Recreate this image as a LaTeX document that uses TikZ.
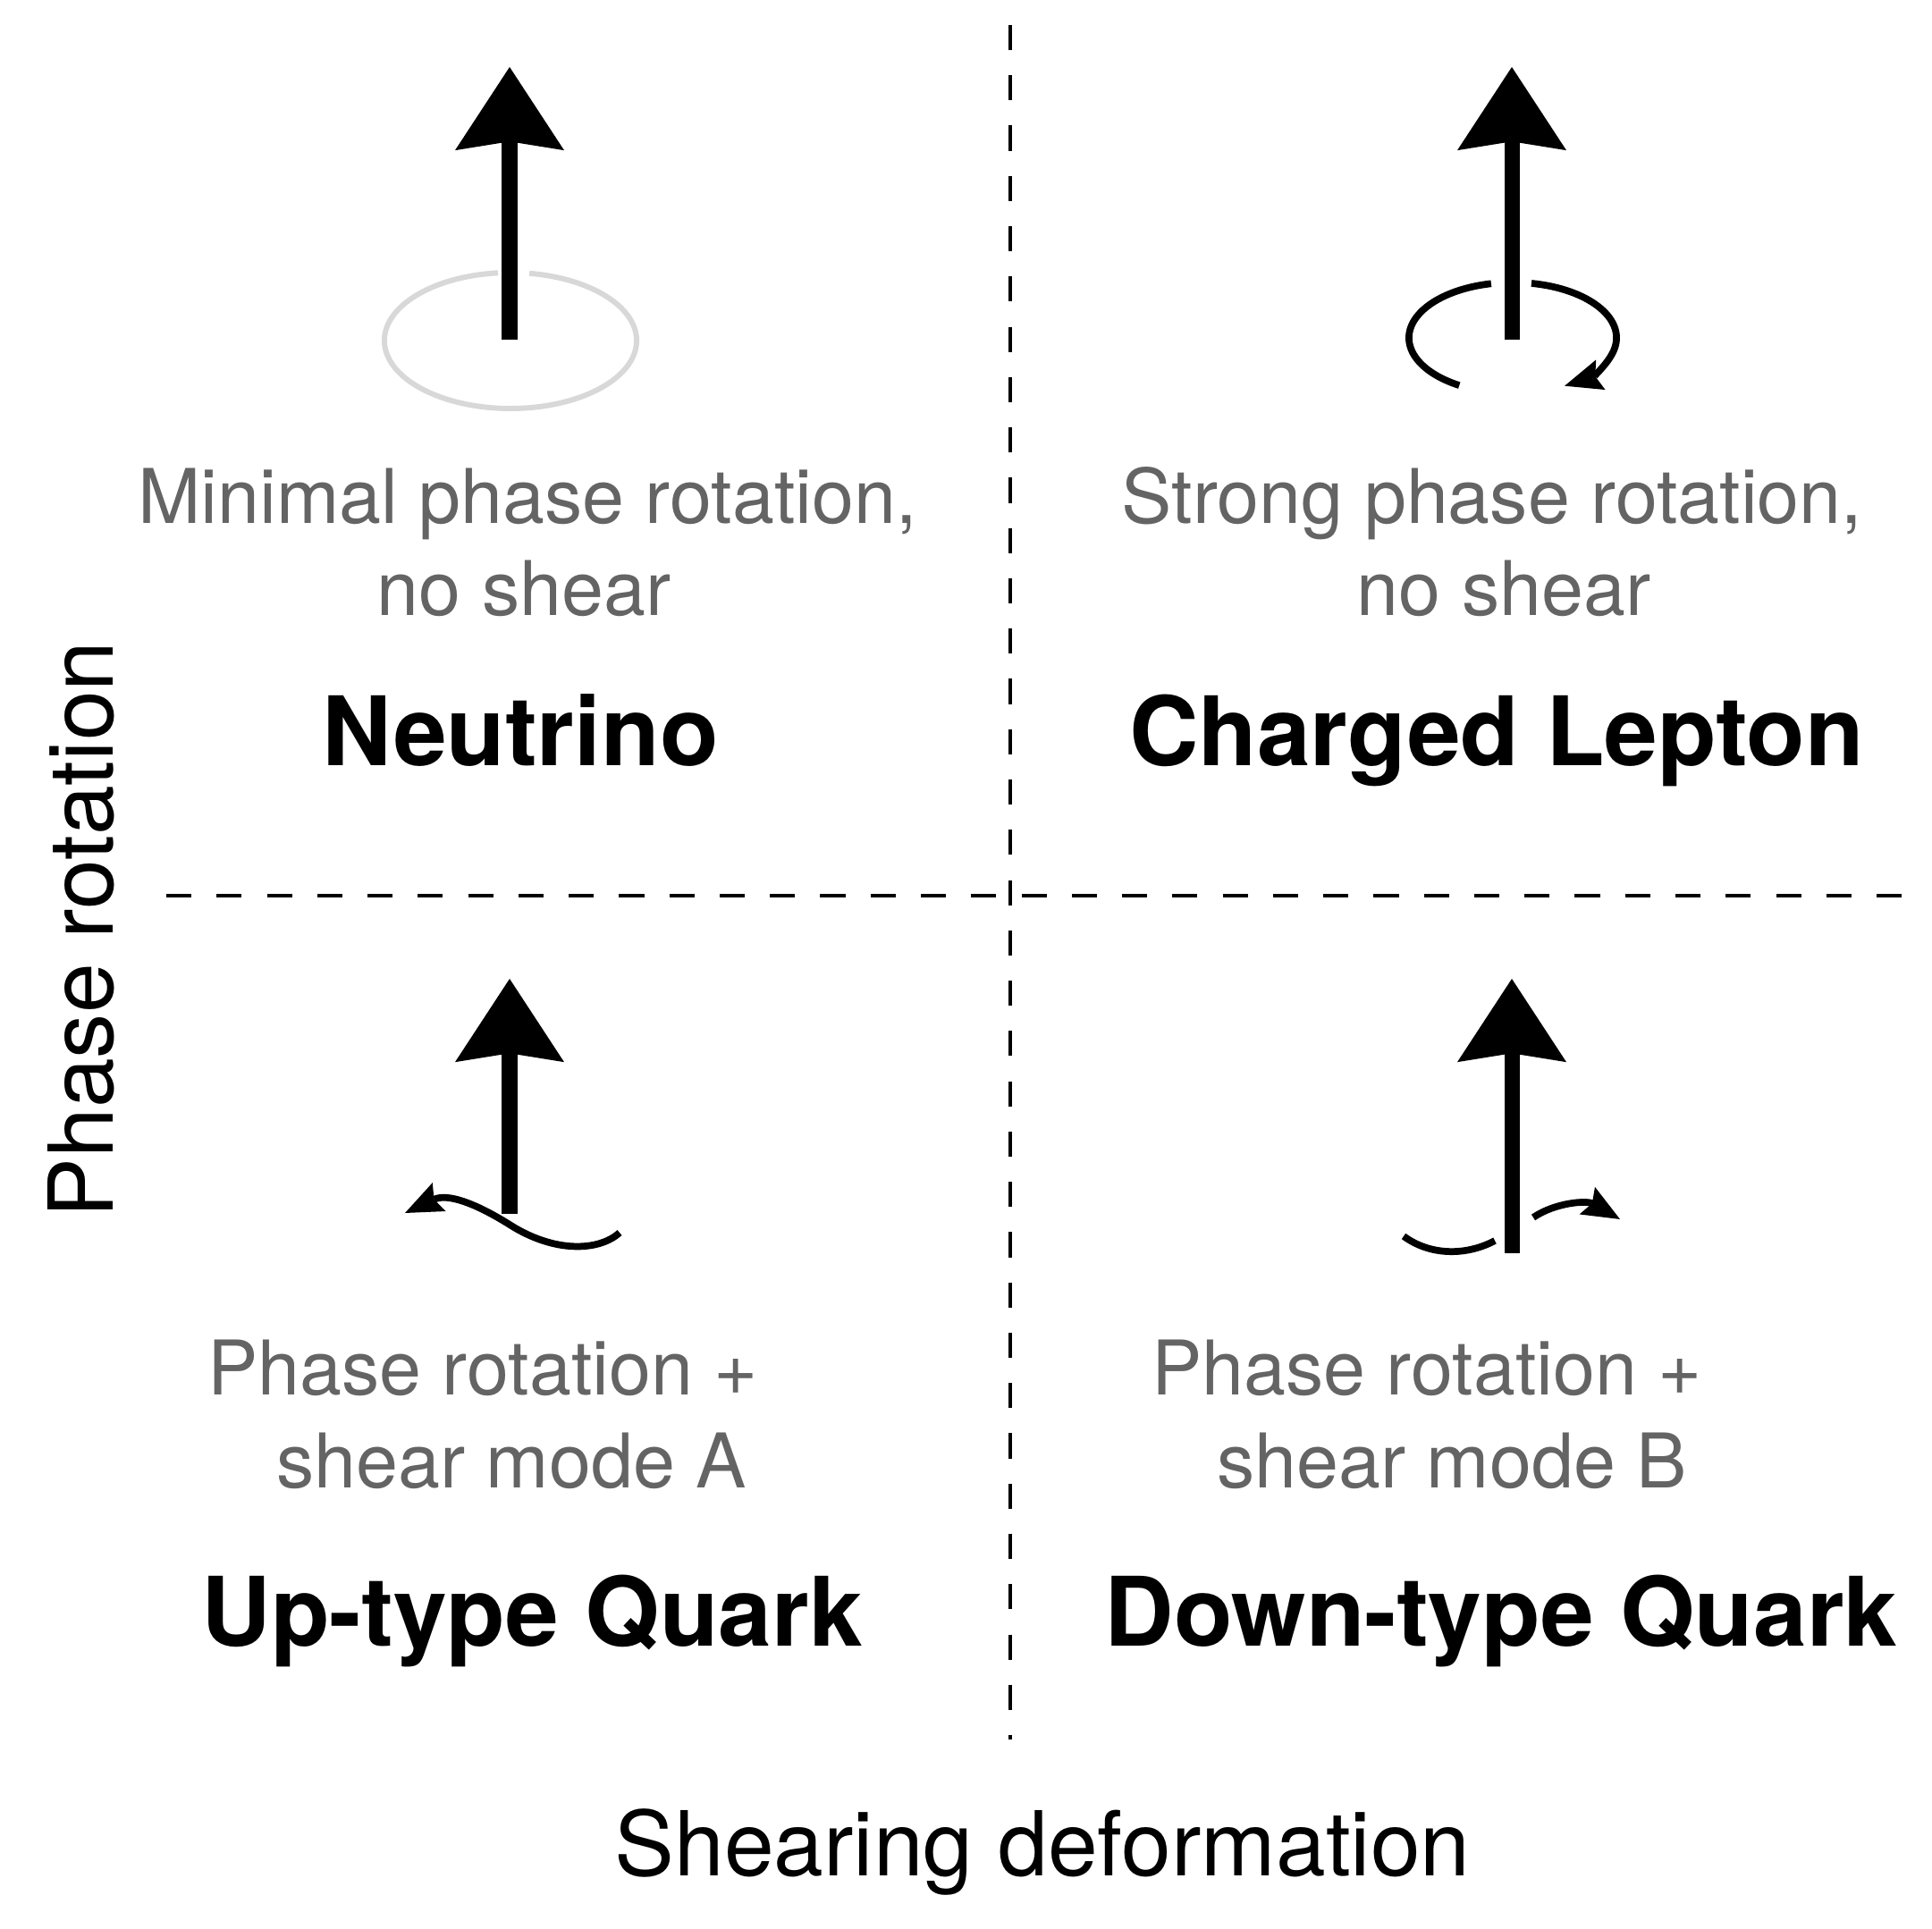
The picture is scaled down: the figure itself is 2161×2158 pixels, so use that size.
\documentclass[tikz,border=0pt]{standalone}
\usepackage{fontspec}
\setmainfont{TeX Gyre Heros}
\usetikzlibrary{arrows.meta}
\definecolor{desc}{RGB}{100,100,100}
\definecolor{ring}{RGB}{216,216,216}
\begin{document}
\begin{tikzpicture}[x=0.01cm,y=0.01cm,
  spin/.style={line width=4.84pt, -{Stealth[length=26.5pt,width=34.7pt,inset=2.8pt,line width=0pt]}},
  gridline/.style={line width=1.1pt, dash pattern=on 8pt off 8pt},
  rot/.style={line width=2.2pt},
  smalltip/.style={-{Stealth[length=12pt,width=10pt,inset=1.8pt,line width=0pt]}},
  desctext/.style={anchor=base, text=desc, font=\fontsize{24}{29}\selectfont, inner sep=0pt},
  title/.style={anchor=base, font=\fontsize{30.5}{36}\selectfont\bfseries, inner sep=0pt},
  axislabel/.style={anchor=base, font=\fontsize{28.5}{34}\selectfont, inner sep=0pt}]
\useasboundingbox (0,0) rectangle (2161,2158);

% dashed dividers
\coordinate (vtop) at (1130,2130);
\coordinate (vbot) at (1130,212);
\coordinate (hl) at (186,1156);
\coordinate (hr) at (2129,1156);
\draw[gridline] (vtop) -- (vbot);
\draw[gridline] (hl) -- (hr);

% main arrows
\coordinate (nu-tail) at (570,1778);  \coordinate (nu-tip) at (570,2083);
\coordinate (cl-tail) at (1691,1778); \coordinate (cl-tip) at (1691,2083);
\coordinate (up-tail) at (570,800);   \coordinate (up-tip) at (570,1063);
\coordinate (dn-tail) at (1691,756);  \coordinate (dn-tip) at (1691,1063);

% neutrino faint ring
\draw[ring, line width=1.7pt] (571,1777) ++(95.7:1.41cm and 0.76cm)
  arc[start angle=95.7, end angle=441.4, x radius=1.41cm, y radius=0.76cm];
\draw[spin] (nu-tail) -- (nu-tip);

% charged lepton rotation
\coordinate (clc) at (1692,1780);
\draw[rot] (clc) ++(102:1.16cm and 0.62cm)
  arc[start angle=102, end angle=239, x radius=1.16cm, y radius=0.62cm];
\draw[rot, smalltip] (clc) ++(79.6:1.16cm and 0.62cm)
  arc[start angle=79.6, end angle=-60, x radius=1.16cm, y radius=0.62cm];
\draw[spin] (cl-tail) -- (cl-tip);

% up-type quark shear
\draw[spin] (up-tail) -- (up-tip);
\coordinate (upw-a) at (693,779);
\coordinate (upw-b) at (570,788);
\coordinate (upw-c) at (453,801);
\draw[rot, smalltip] (upw-a) .. controls (670,758) and (620,756) .. (upw-b)
  .. controls (530,813) and (500,823) .. (upw-c);

% down-type quark shear
\draw[spin] (dn-tail) -- (dn-tip);
\coordinate (dnl-a) at (1570,775);
\coordinate (dnl-b) at (1672,770);
\coordinate (dnr-a) at (1715,796);
\coordinate (dnr-b) at (1812,794);
\draw[rot] (dnl-a) .. controls (1600,753) and (1640,753) .. (dnl-b);
\draw[rot, smalltip] (dnr-a) .. controls (1740,813) and (1775,815) .. (dnr-b);

% texts
\node[desctext] (nu1) at (590,1572) {Minimal phase rotation,};
\node[desctext] (nu2) at (586,1469) {no shear};
\node[title] (nu3) at (582,1301) {Neutrino};

\node[desctext] (cl1) at (1669,1572) {Strong phase rotation,};
\node[desctext] (cl2) at (1682,1469) {no shear};
\node[title] (cl3) at (1674,1301) {Charged Lepton};

\node[desctext] (up1) at (540,597) {Phase rotation +};
\node[desctext] (up2) at (572,493) {shear mode A};
\node[title] (up3) at (595,316) {Up-type Quark};

\node[desctext] (dn1) at (1596,597) {Phase rotation +};
\node[desctext] (dn2) at (1624,493) {shear mode B};
\node[title] (dn3) at (1679,316) {Down-type Quark};

\node[axislabel] (xlab) at (1166,59) {Shearing deformation};
\node[axislabel, rotate=90] (ylab) at (127,1118) {Phase rotation};
\end{tikzpicture}
\end{document}
